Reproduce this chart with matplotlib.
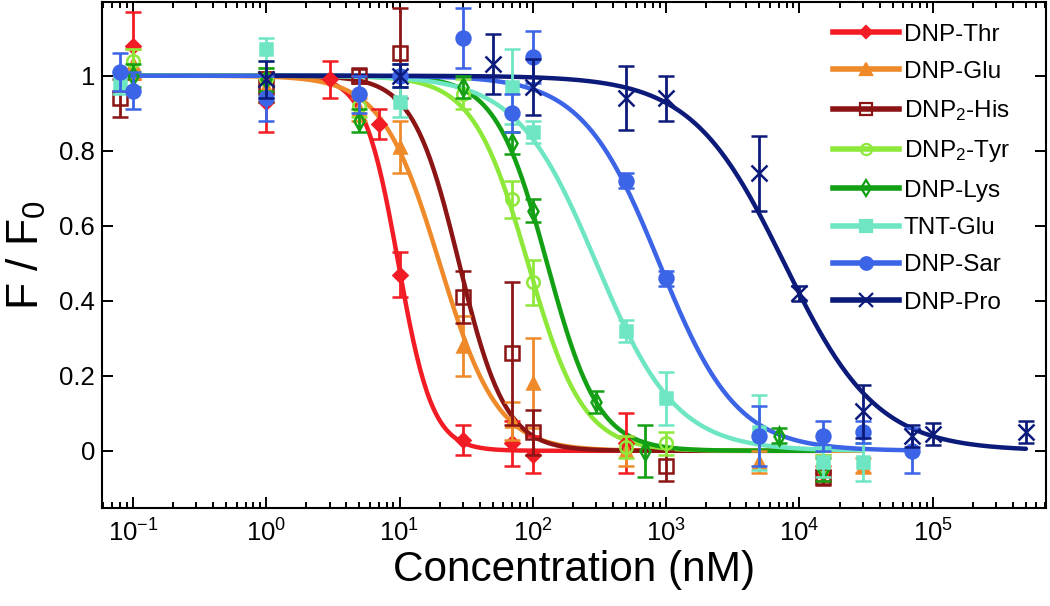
import numpy as np
import matplotlib
matplotlib.use("Agg")
import matplotlib.pyplot as plt
from matplotlib.lines import Line2D
from matplotlib.ticker import FixedLocator, FuncFormatter, NullFormatter

plt.rcParams["font.family"] = ["Liberation Sans", "DejaVu Sans"]
plt.rcParams["mathtext.fontset"] = "custom"
plt.rcParams["mathtext.rm"] = "Liberation Sans"
plt.rcParams["mathtext.it"] = "Liberation Sans:italic"
plt.rcParams["mathtext.default"] = "regular"
plt.rcParams["axes.unicode_minus"] = False

# ── data (concentration nM, F/F0, error) ──
names = ["DNP-Thr", "DNP-Glu", "DNP$_2$-His", "DNP$_2$-Tyr",
         "DNP-Lys", "TNT-Glu", "DNP-Sar", "DNP-Pro"]

thr_x = [0.1, 1, 3, 7, 10, 30, 70, 100, 500, 15000]
thr_y = [1.08, 0.93, 0.99, 0.87, 0.47, 0.03, 0.02, -0.01, 0.02, -0.06]
thr_e = [0.09, 0.08, 0.05, 0.04, 0.06, 0.04, 0.06, 0.05, 0.08, 0.02]

glu_x = [0.1, 1, 5, 10, 30, 70, 100, 500, 5000, 15000, 30000]
glu_y = [1.03, 0.97, 0.91, 0.81, 0.28, 0.08, 0.18, 0.0, -0.03, -0.04, -0.04]
glu_e = [0.04, 0.04, 0.03, 0.07, 0.08, 0.05, 0.12, 0.04, 0.03, 0.03, 0.02]

his_x = [0.08, 1, 5, 10, 30, 70, 100, 1000, 15000]
his_y = [0.94, 0.97, 1.0, 1.06, 0.41, 0.26, 0.05, -0.04, -0.07]
his_e = [0.05, 0.04, 0.02, 0.12, 0.07, 0.19, 0.06, 0.04, 0.02]

tyr_x = [0.1, 1, 5, 10, 30, 70, 100, 500, 1000, 15000]
tyr_y = [1.04, 0.99, 0.92, 1.0, 0.95, 0.67, 0.45, 0.01, 0.02, -0.04]
tyr_e = [0.03, 0.03, 0.03, 0.03, 0.04, 0.05, 0.06, 0.03, 0.03, 0.03]

lys_x = [0.1, 1, 5, 30, 70, 100, 300, 700, 7000, 15000]
lys_y = [1.0, 0.99, 0.88, 0.97, 0.82, 0.64, 0.13, 0.0, 0.04, -0.05]
lys_e = [0.03, 0.03, 0.03, 0.03, 0.03, 0.03, 0.03, 0.07, 0.02, 0.03]

tnt_x = [0.08, 1, 10, 70, 100, 500, 1000, 5000, 15000, 30000]
tnt_y = [0.98, 1.07, 0.93, 0.97, 0.85, 0.32, 0.14, 0.05, -0.03, -0.03]
tnt_e = [0.03, 0.03, 0.04, 0.10, 0.03, 0.03, 0.07, 0.10, 0.04, 0.05]

sar_x = [0.08, 0.1, 1, 5, 10, 30, 70, 100, 500, 1000, 5000, 15000, 30000, 70000]
sar_y = [1.01, 0.96, 0.94, 0.95, 1.0, 1.10, 0.90, 1.05, 0.72, 0.46, 0.04, 0.04, 0.05, 0.0]
sar_e = [0.05, 0.05, 0.06, 0.05, 0.03, 0.08, 0.05, 0.07, 0.02, 0.02, 0.08, 0.04, 0.03, 0.06]

pro_x = [1, 10, 50, 100, 500, 1000, 5000, 10000, 30000, 70000, 100000, 500000]
pro_y = [0.99, 1.0, 1.03, 0.97, 0.94, 0.94, 0.74, 0.42, 0.105, 0.04, 0.045, 0.05]
pro_e = [0.05, 0.03, 0.08, 0.075, 0.085, 0.06, 0.10, 0.02, 0.07, 0.03, 0.03, 0.03]

# fitted curves F/F0 = 1 / (1 + (c/IC50)^n), parameters
ic50 = [9.8, 20, 28, 92, 128, 300, 890, 7700]
hill = [3.4, 2.0, 2.5, 2.1, 2.25, 1.45, 1.5, 1.25]

xs = [thr_x, glu_x, his_x, tyr_x, lys_x, tnt_x, sar_x, pro_x]
ys = [thr_y, glu_y, his_y, tyr_y, lys_y, tnt_y, sar_y, pro_y]
es = [thr_e, glu_e, his_e, tyr_e, lys_e, tnt_e, sar_e, pro_e]

colors = ["#f21c24", "#ee8a2a", "#8b1414", "#8ee83a",
          "#14a014", "#6ee6c4", "#3c64e6", "#0c1a7a"]
markers = ["D", "^", "s", "o", "d", "s", "o", "x"]
filled = [True, True, False, False, False, True, True, True]
msizes = [7, 9, 10, 9, 9, 9, 10, 11]

fig = plt.figure(figsize=(10.5, 6.06), dpi=100)
ax = fig.add_axes([0.097, 0.162, 0.899, 0.835])

handles = []
for i in range(8):
    c = colors[i]
    mfc = c if filled[i] else "none"
    x = np.array(xs[i], dtype=float)
    xc = np.logspace(np.log10(x.min()), np.log10(x.max()), 400)
    yc = 1.0 / (1.0 + (xc / ic50[i]) ** hill[i])
    ax.plot(xc, yc, color=c, lw=3.2, zorder=2 + i * 0.1, solid_capstyle="round")
    ax.errorbar(x, ys[i], yerr=es[i], fmt=markers[i], ms=msizes[i], color=c,
                mfc=mfc, mec=c, mew=1.8, ecolor=c, elinewidth=2, capsize=6,
                capthick=2, zorder=3 + i * 0.1)
    handles.append(Line2D([], [], color=c, lw=4, marker=markers[i], ms=msizes[i] - 1,
                          mfc=mfc, mec=c, mew=1.6))

ax.set_xscale("log")
ax.set_xlim(0.0585, 7.05e5)
ax.set_ylim(-0.152, 1.197)
ax.set_yticks([0, 0.2, 0.4, 0.6, 0.8, 1.0])
ax.yaxis.set_major_formatter(FuncFormatter(lambda v, p: "%g" % round(v, 2)))
decades = [-1, 0, 1, 2, 3, 4, 5]
ax.xaxis.set_major_locator(FixedLocator([10.0 ** d for d in decades]))
ax.xaxis.set_major_formatter(FuncFormatter(lambda v, p: "$10^{%d}$" % round(np.log10(v))))
minor = [m * 10.0 ** d for d in range(-2, 6) for m in range(2, 10)]
ax.xaxis.set_minor_locator(FixedLocator([v for v in minor if 0.0585 < v < 7.05e5]))
ax.xaxis.set_minor_formatter(NullFormatter())

ax.tick_params(which="both", direction="in", top=True, right=True, width=1.4)
ax.tick_params(which="major", length=8, labelsize=18.5, pad=5)
ax.tick_params(axis="x", which="major", pad=8)
ax.tick_params(which="minor", length=4.5)
for s in ax.spines.values():
    s.set_linewidth(1.5)

ax.set_xlabel("Concentration (nM)", fontsize=30.5, labelpad=3)
ax.set_ylabel("F / F$_0$", fontsize=32, labelpad=8)

ax.legend(handles, names, loc="upper left", bbox_to_anchor=(0.775, 0.957),
          frameon=False, fontsize=17.5, handlelength=2.7, handletextpad=0.2,
          labelspacing=0.63, borderpad=0, borderaxespad=0)

fig.savefig("out.png", dpi=100)
